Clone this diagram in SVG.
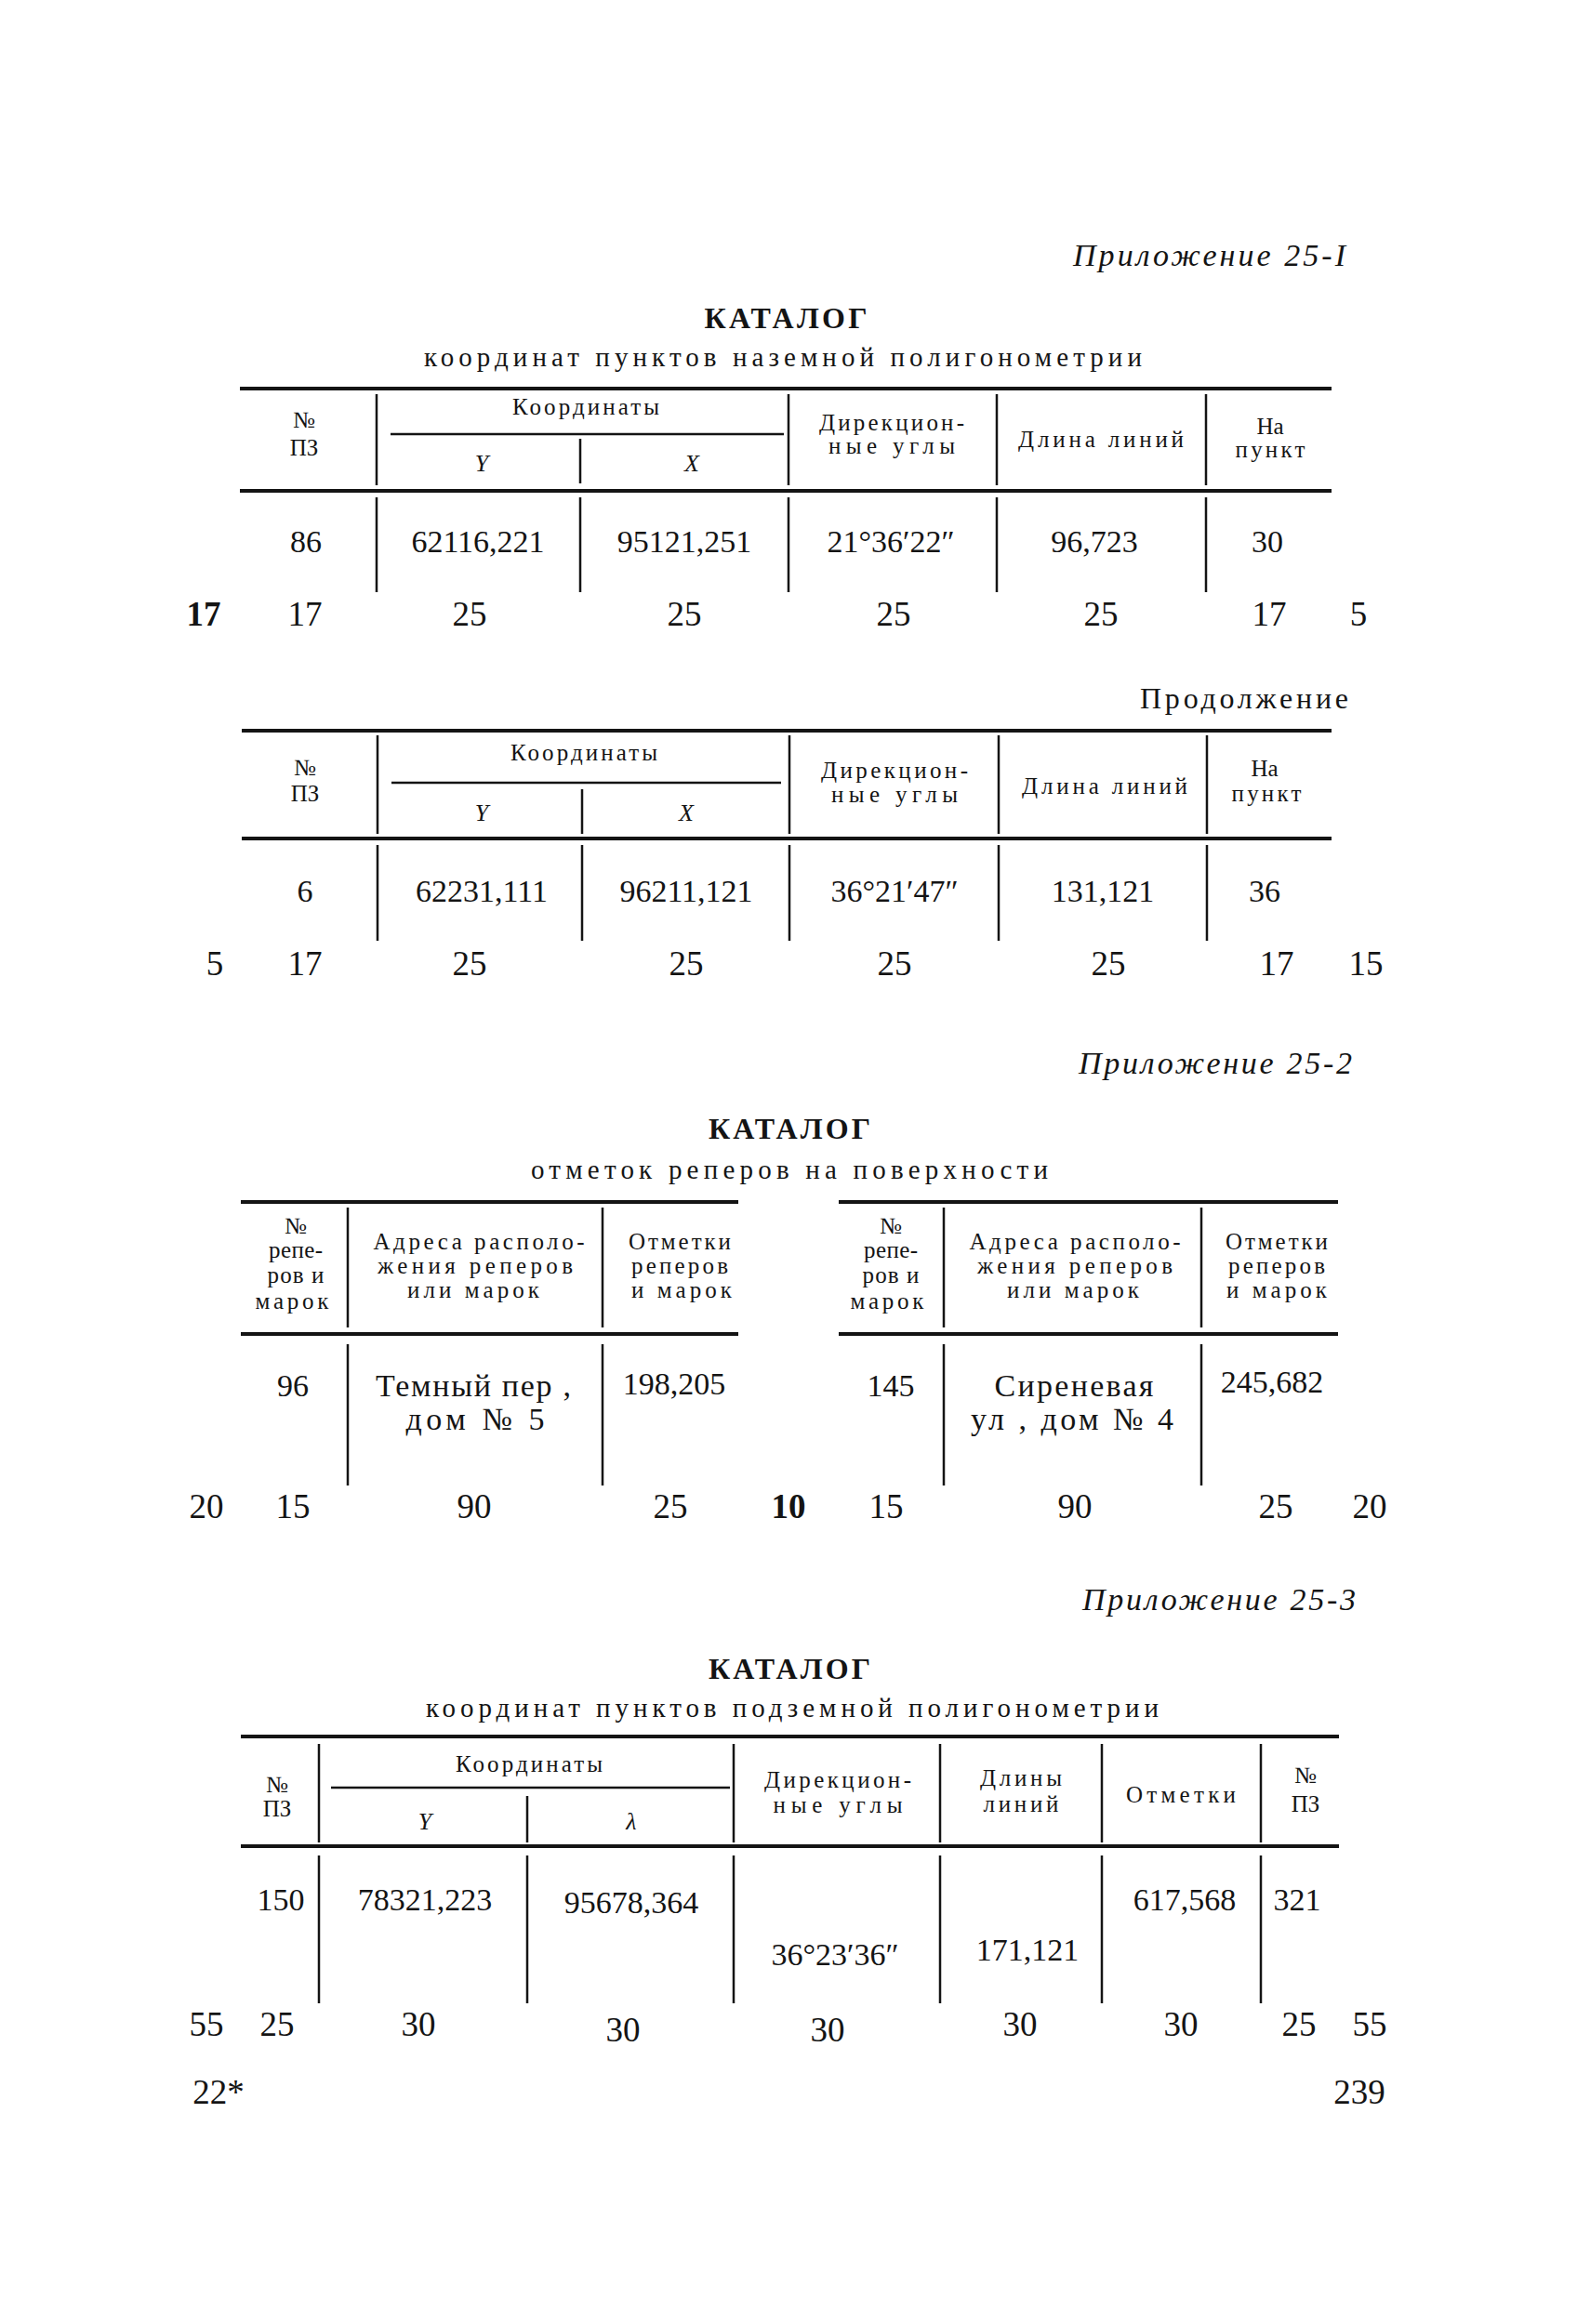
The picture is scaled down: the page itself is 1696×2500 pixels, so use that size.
<svg xmlns="http://www.w3.org/2000/svg" width="1696" height="2500" viewBox="0 0 1696 2500">
<style>
text{font-family:"Liberation Serif","DejaVu Serif",serif;fill:#141414}
.ap{font-size:34px;font-style:italic;text-anchor:end}
.pr{font-size:32px;text-anchor:end}
.ttl{font-size:32px;font-weight:bold;text-anchor:middle}
.sub{font-size:29px;text-anchor:middle}
.h{font-size:25px;text-anchor:middle}
.hi{font-size:26px;font-style:italic;text-anchor:middle}
.d{font-size:34px;text-anchor:middle}
.n{font-size:37px;text-anchor:middle}
.b{font-weight:bold}
.rt{stroke:#141414;stroke-width:4;fill:none}
.rs{stroke:#141414;stroke-width:2.5;fill:none}
.v{stroke:#141414;stroke-width:2.5;fill:none}
</style>
<rect width="1696" height="2500" fill="#fff"/>

<g id="table1">
<text class="ap" x="1447" y="286" textLength="293" lengthAdjust="spacing">Приложение 25-I</text>
<text class="ttl" x="845" y="353" textLength="175" lengthAdjust="spacing">КАТАЛОГ</text>
<text class="sub" x="842" y="394" textLength="772" lengthAdjust="spacing">координат пунктов наземной полигонометрии</text>
<g id="t1-rules">
<path class="rt" d="M258 418H1432M258 528H1432"/>
<path class="rs" d="M420 467H843"/>
<path class="v" d="M405 424V522M848 424V522M1072 424V522M1297 424V522M624 472V520"/>
<path class="v" d="M405 535V637M624 535V637M848 535V637M1072 535V637M1297 535V637"/>
</g>
<g id="t1-head">
<text class="h" x="327" y="460">№</text>
<text class="h" x="327" y="490">ПЗ</text>
<text class="h" x="630" y="446" textLength="158" lengthAdjust="spacing">Координаты</text>
<text class="hi" x="518" y="507">Y</text>
<text class="hi" x="744" y="507">X</text>
<text class="h" x="959" y="463" textLength="156" lengthAdjust="spacing">Дирекцион-</text>
<text class="h" x="959" y="488" textLength="136" lengthAdjust="spacing">ные углы</text>
<text class="h" x="1184" y="481" textLength="178" lengthAdjust="spacing">Длина линий</text>
<text class="h" x="1366" y="467">На</text>
<text class="h" x="1366" y="492" textLength="75" lengthAdjust="spacing">пункт</text>
</g>
<g id="t1-data">
<text class="d" x="329" y="594">86</text>
<text class="d" x="514" y="594">62116,221</text>
<text class="d" x="736" y="594">95121,251</text>
<text class="d" x="958" y="594">21°36′22″</text>
<text class="d" x="1177" y="594">96,723</text>
<text class="d" x="1363" y="594">30</text>
</g>
<g id="t1-widths">
<text class="n b" x="219" y="673">17</text>
<text class="n" x="328" y="673">17</text>
<text class="n" x="505" y="673">25</text>
<text class="n" x="736" y="673">25</text>
<text class="n" x="961" y="673">25</text>
<text class="n" x="1184" y="673">25</text>
<text class="n" x="1365" y="673">17</text>
<text class="n" x="1461" y="673">5</text>
</g>
</g>

<g id="table2">
<text class="pr" x="1450" y="762" textLength="224" lengthAdjust="spacing">Продолжение</text>
<g id="t2-rules">
<path class="rt" d="M260 786H1432M260 902H1432"/>
<path class="rs" d="M421 842H840"/>
<path class="v" d="M406 791V897M849 791V897M1074 791V897M1298 791V897M626 849V897"/>
<path class="v" d="M406 909V1012M626 909V1012M849 909V1012M1074 909V1012M1298 909V1012"/>
</g>
<g id="t2-head">
<text class="h" x="328" y="834">№</text>
<text class="h" x="328" y="862">ПЗ</text>
<text class="h" x="628" y="818" textLength="158" lengthAdjust="spacing">Координаты</text>
<text class="hi" x="518" y="883">Y</text>
<text class="hi" x="738" y="883">X</text>
<text class="h" x="962" y="837" textLength="158" lengthAdjust="spacing">Дирекцион-</text>
<text class="h" x="962" y="863" textLength="136" lengthAdjust="spacing">ные углы</text>
<text class="h" x="1188" y="854" textLength="178" lengthAdjust="spacing">Длина линий</text>
<text class="h" x="1360" y="835">На</text>
<text class="h" x="1362" y="862" textLength="75" lengthAdjust="spacing">пункт</text>
</g>
<g id="t2-data">
<text class="d" x="328" y="970">6</text>
<text class="d" x="518" y="970">62231,111</text>
<text class="d" x="738" y="970">96211,121</text>
<text class="d" x="962" y="970">36°21′47″</text>
<text class="d" x="1186" y="970">131,121</text>
<text class="d" x="1360" y="970">36</text>
</g>
<g id="t2-widths">
<text class="n" x="231" y="1049">5</text>
<text class="n" x="328" y="1049">17</text>
<text class="n" x="505" y="1049">25</text>
<text class="n" x="738" y="1049">25</text>
<text class="n" x="962" y="1049">25</text>
<text class="n" x="1192" y="1049">25</text>
<text class="n" x="1373" y="1049">17</text>
<text class="n" x="1469" y="1049">15</text>
</g>
</g>

<g id="table3">
<text class="ap" x="1454" y="1155" textLength="294" lengthAdjust="spacing">Приложение 25-2</text>
<text class="ttl" x="849" y="1225" textLength="174" lengthAdjust="spacing">КАТАЛОГ</text>
<text class="sub" x="849" y="1268" textLength="556" lengthAdjust="spacing">отметок реперов на поверхности</text>
<g id="t3-rules">
<path class="rt" d="M259 1293H794M902 1293H1439M259 1435H794M902 1435H1439"/>
<path class="v" d="M374 1299V1428M648 1299V1428M1015 1299V1428M1292 1299V1428"/>
<path class="v" d="M374 1446V1598M648 1446V1598M1015 1446V1598M1292 1446V1598"/>
</g>
<g id="t3-head-left">
<text class="h" x="318" y="1327">№</text>
<text class="h" x="318" y="1353" textLength="58" lengthAdjust="spacing">репе-</text>
<text class="h" x="318" y="1380" textLength="61" lengthAdjust="spacing">ров и</text>
<text class="h" x="314" y="1408" textLength="79" lengthAdjust="spacing">марок</text>
<text class="h" x="515" y="1344" textLength="227" lengthAdjust="spacing">Адреса располо-</text>
<text class="h" x="511" y="1370" textLength="210" lengthAdjust="spacing">жения реперов</text>
<text class="h" x="509" y="1396" textLength="142" lengthAdjust="spacing">или марок</text>
<text class="h" x="731" y="1344" textLength="110" lengthAdjust="spacing">Отметки</text>
<text class="h" x="731" y="1370" textLength="104" lengthAdjust="spacing">реперов</text>
<text class="h" x="733" y="1396" textLength="108" lengthAdjust="spacing">и марок</text>
</g>
<g id="t3-head-right">
<text class="h" x="958" y="1327">№</text>
<text class="h" x="958" y="1353" textLength="58" lengthAdjust="spacing">репе-</text>
<text class="h" x="958" y="1380" textLength="61" lengthAdjust="spacing">ров и</text>
<text class="h" x="954" y="1408" textLength="79" lengthAdjust="spacing">марок</text>
<text class="h" x="1156" y="1344" textLength="227" lengthAdjust="spacing">Адреса располо-</text>
<text class="h" x="1156" y="1370" textLength="210" lengthAdjust="spacing">жения реперов</text>
<text class="h" x="1154" y="1396" textLength="142" lengthAdjust="spacing">или марок</text>
<text class="h" x="1373" y="1344" textLength="110" lengthAdjust="spacing">Отметки</text>
<text class="h" x="1373" y="1370" textLength="104" lengthAdjust="spacing">реперов</text>
<text class="h" x="1373" y="1396" textLength="108" lengthAdjust="spacing">и марок</text>
</g>
<g id="t3-data">
<text class="d" x="315" y="1502">96</text>
<text class="d" x="509" y="1502" textLength="210" lengthAdjust="spacing">Темный пер ,</text>
<text class="d" x="511" y="1538" textLength="149" lengthAdjust="spacing">дом № 5</text>
<text class="d" x="725" y="1500">198,205</text>
<text class="d" x="958" y="1502">145</text>
<text class="d" x="1155" y="1502" textLength="171" lengthAdjust="spacing">Сиреневая</text>
<text class="d" x="1153" y="1538" textLength="218" lengthAdjust="spacing">ул , дом № 4</text>
<text class="d" x="1368" y="1498">245,682</text>
</g>
<g id="t3-widths">
<text class="n" x="222" y="1633">20</text>
<text class="n" x="315" y="1633">15</text>
<text class="n" x="510" y="1633">90</text>
<text class="n" x="721" y="1633">25</text>
<text class="n b" x="848" y="1633">10</text>
<text class="n" x="953" y="1633">15</text>
<text class="n" x="1156" y="1633">90</text>
<text class="n" x="1372" y="1633">25</text>
<text class="n" x="1473" y="1633">20</text>
</g>
</g>

<g id="table4">
<text class="ap" x="1458" y="1732" textLength="294" lengthAdjust="spacing">Приложение 25-3</text>
<text class="ttl" x="849" y="1806" textLength="174" lengthAdjust="spacing">КАТАЛОГ</text>
<text class="sub" x="852" y="1847" textLength="788" lengthAdjust="spacing">координат пунктов подземной полигонометрии</text>
<g id="t4-rules">
<path class="rt" d="M259 1868H1440M259 1986H1440"/>
<path class="rs" d="M356 1923H785"/>
<path class="v" d="M343 1876V1982M789 1876V1982M1011 1876V1982M1185 1876V1982M1356 1876V1982M567 1932V1982"/>
<path class="v" d="M343 1996V2155M567 1996V2155M789 1996V2155M1011 1996V2155M1185 1996V2155M1356 1996V2155"/>
</g>
<g id="t4-head">
<text class="h" x="298" y="1928">№</text>
<text class="h" x="298" y="1954">ПЗ</text>
<text class="h" x="569" y="1906" textLength="158" lengthAdjust="spacing">Координаты</text>
<text class="hi" x="457" y="1968">Y</text>
<text class="hi" x="679" y="1968">λ</text>
<text class="h" x="901" y="1923" textLength="158" lengthAdjust="spacing">Дирекцион-</text>
<text class="h" x="901" y="1950" textLength="139" lengthAdjust="spacing">ные углы</text>
<text class="h" x="1098" y="1921" textLength="88" lengthAdjust="spacing">Длины</text>
<text class="h" x="1098" y="1949" textLength="81" lengthAdjust="spacing">линий</text>
<text class="h" x="1270" y="1939" textLength="118" lengthAdjust="spacing">Отметки</text>
<text class="h" x="1404" y="1918">№</text>
<text class="h" x="1404" y="1949">ПЗ</text>
</g>
<g id="t4-data">
<text class="d" x="302" y="2055">150</text>
<text class="d" x="457" y="2055">78321,223</text>
<text class="d" x="679" y="2058">95678,364</text>
<text class="d" x="898" y="2114">36°23′36″</text>
<text class="d" x="1105" y="2109">171,121</text>
<text class="d" x="1274" y="2055">617,568</text>
<text class="d" x="1395" y="2055">321</text>
</g>
<g id="t4-widths">
<text class="n" x="222" y="2190">55</text>
<text class="n" x="298" y="2190">25</text>
<text class="n" x="450" y="2190">30</text>
<text class="n" x="670" y="2196">30</text>
<text class="n" x="890" y="2196">30</text>
<text class="n" x="1097" y="2190">30</text>
<text class="n" x="1270" y="2190">30</text>
<text class="n" x="1397" y="2190">25</text>
<text class="n" x="1473" y="2190">55</text>
</g>
</g>

<g id="page-footer">
<text class="n" x="235" y="2263">22*</text>
<text class="n" x="1462" y="2263">239</text>
</g>
</svg>
